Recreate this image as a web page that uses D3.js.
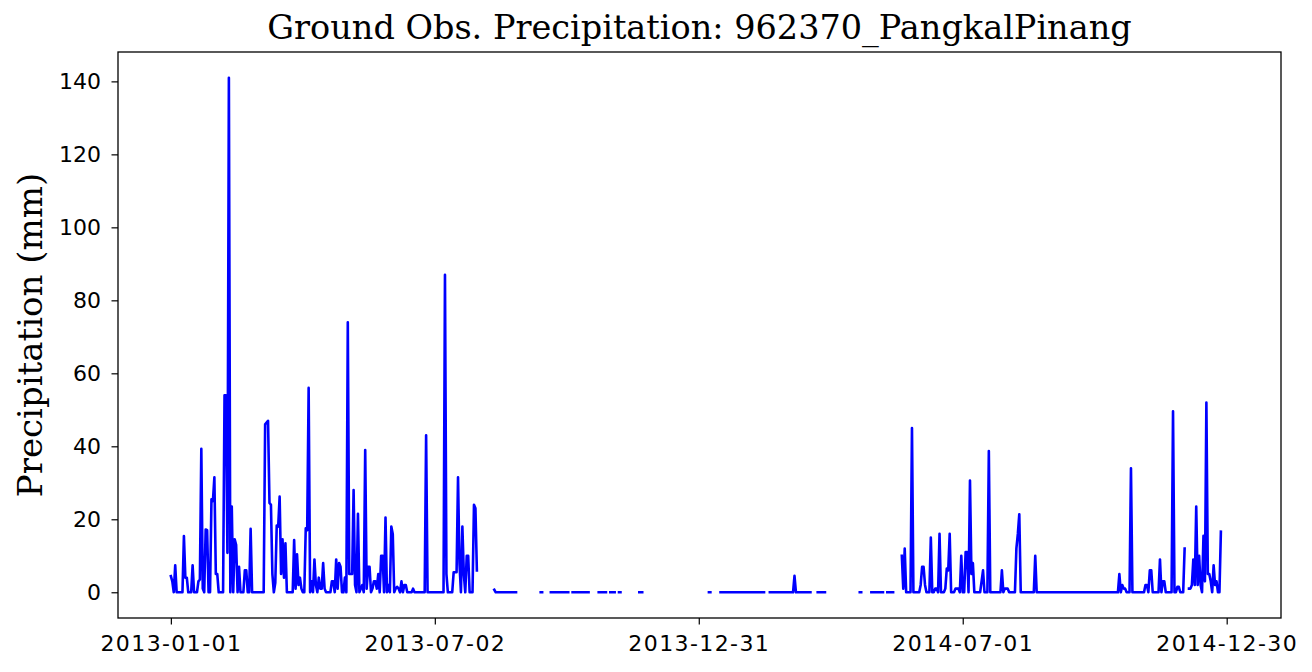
<!DOCTYPE html>
<html>
<head>
<meta charset="utf-8">
<script src="https://cdn.jsdelivr.net/npm/d3@7"></script>
<style>
  body { margin: 0; background: #fff; }
  svg text { font-family: "DejaVu Sans", sans-serif; fill: #000; }
</style>
</head>
<body>
<div id="chart"></div>
<script>
// series runs day by day from this date (day offset 0)
const startDate = "2013-01-01";
const dayCount = 730;

// x tick positions, as day offsets
const tickDays = [0, 182, 364, 546, 728];
const yTicks = [0, 20, 40, 60, 80, 100, 120, 140];

// stretches of days that have an observation [firstDay, lastDay]; the rest is missing
const observedRuns = [
    [0, 211], [223, 238], [255, 256], [262, 274], [277, 288], [295, 300],
    [303, 306], [309, 310], [323, 325], [371, 372], [379, 409], [413, 441],
    [446, 451], [475, 476], [483, 491], [494, 498], [504, 699], [702, 724]
];

// days with rain [day, mm]; every other observed day is 0 mm
const rainDays = [
    [0, 4.4], [1, 3], [3, 7.4], [9, 15.4], [10, 4], [11, 4], [15, 7.4], [19, 3],
    [20, 3.5], [21, 39.3], [22, 1], [24, 17.2], [25, 17], [28, 25.5], [29, 25],
    [30, 31.5], [31, 5], [32, 5], [37, 54], [38, 54], [39, 10.8], [40, 141],
    [42, 23.5], [44, 14.5], [45, 13], [47, 7], [51, 6], [52, 6], [55, 17.4],
    [65, 46], [66, 46.5], [67, 47], [68, 24.5], [69, 24], [70, 5], [72, 2.6],
    [73, 18.3], [74, 18], [75, 26.2], [76, 5], [77, 14.5], [78, 4], [79, 13.4],
    [85, 14.3], [86, 1], [87, 10.4], [88, 2], [89, 4], [90, 1], [93, 17.5], [94, 17],
    [95, 56], [97, 3], [99, 9], [100, 2], [102, 4], [103, 1], [104, 1], [105, 8],
    [106, 1], [111, 3], [112, 3], [114, 9], [115, 1], [116, 8], [117, 7], [120, 4],
    [122, 74], [123, 5], [124, 5], [125, 5], [126, 28], [127, 2], [129, 21.5],
    [131, 1], [132, 2], [134, 39], [135, 1], [136, 7], [137, 7], [139, 1], [140, 3],
    [141, 3], [142, 1], [143, 5], [145, 10], [146, 10], [148, 20.5], [150, 2],
    [152, 18], [153, 16], [155, 1], [156, 1.5], [157, 1], [159, 3], [161, 2],
    [162, 2], [167, 1], [176, 43], [189, 87], [190, 5], [195, 5.5], [196, 5.5],
    [197, 5.5], [198, 31.5], [199, 8], [201, 18], [202, 5], [204, 10], [205, 10],
    [209, 24], [210, 23], [211, 6],
    [223, 0.7], [430, 4.5],
    [504, 10], [505, 1], [506, 12], [511, 45], [517, 2], [518, 7], [519, 7], [520, 2],
    [524, 15], [527, 1], [528, 1], [530, 16], [534, 1], [535, 6.5], [536, 6],
    [537, 16], [541, 1], [542, 1], [543, 1], [545, 10], [548, 11], [549, 11],
    [551, 30.6], [552, 5], [553, 8], [559, 3], [560, 6], [564, 38.7], [573, 6],
    [575, 1], [576, 1], [577, 1], [583, 12], [584, 16], [585, 21.4], [596, 10],
    [654, 5], [656, 2], [657, 1], [658, 1], [662, 34], [672, 2], [673, 2], [675, 6],
    [676, 6], [682, 9], [684, 3], [685, 3], [691, 49.6], [694, 1.5], [695, 1.5],
    [699, 12], [702, 1], [703, 1], [704, 2], [705, 9], [706, 2], [707, 23.5],
    [708, 2], [709, 10], [710, 2], [712, 15.5], [713, 3], [714, 52], [715, 5],
    [716, 5], [717, 3], [719, 7.4], [720, 2], [721, 3], [724, 16.6]
];

const width = 1312, height = 672;
const margin = { top: 52, right: 31, bottom: 54, left: 118 };
const dayMs = 864e5;
const t0 = new Date(startDate + "T00:00:00Z");
const dayToDate = d => new Date(t0.getTime() + d * dayMs);

// daily series with null for missing days
const rainMap = new Map(rainDays);
const series = d3.range(dayCount).map(d => ({ date: dayToDate(d), value: null }));
observedRuns.forEach(([a, b]) => {
    for (let d = a; d <= b; d++) series[d].value = rainMap.has(d) ? rainMap.get(d) : 0;
});

const svg = d3.select("#chart").append("svg")
    .attr("width", width)
    .attr("height", height)
    .style("background", "#fff");

const pad = (dayCount - 1) * 0.05;
const x = d3.scaleUtc()
    .domain([dayToDate(-pad), dayToDate(dayCount - 1 + pad)])
    .range([margin.left, width - margin.right]);

const yMax = d3.max(rainDays, d => d[1]);
const y = d3.scaleLinear()
    .domain([-yMax * 0.05, yMax * 1.05])
    .range([height - margin.bottom, margin.top]);

// the rain line
const line = d3.line()
    .defined(d => d.value !== null)
    .x(d => x(d.date))
    .y(d => y(d.value));

svg.append("path")
    .datum(series)
    .attr("d", line)
    .attr("fill", "none")
    .attr("stroke", "#0000ff")
    .attr("stroke-width", 2.6)
    .attr("stroke-linejoin", "round")
    .attr("stroke-linecap", "square");

// axes
const fmt = d3.utcFormat("%Y-%m-%d");
const xAxis = svg.append("g")
    .attr("transform", `translate(0,${height - margin.bottom})`)
    .call(d3.axisBottom(x).tickValues(tickDays.map(dayToDate)).tickFormat(fmt)
        .tickSize(6.5).tickPadding(11).tickSizeOuter(0));

const yAxis = svg.append("g")
    .attr("transform", `translate(${margin.left},0)`)
    .call(d3.axisLeft(y).tickValues(yTicks).tickSize(6.5).tickPadding(10.5).tickSizeOuter(0));

[xAxis, yAxis].forEach(g => {
    g.select(".domain").remove();
    g.selectAll(".tick line").attr("stroke", "#000").attr("stroke-width", 1.2);
    g.selectAll(".tick text").attr("font-size", 22).attr("font-family", "DejaVu Sans").attr("fill", "#000");
});
xAxis.selectAll(".tick text").style("letter-spacing", "1.4px");

// frame
svg.append("rect")
    .attr("x", margin.left)
    .attr("y", margin.top)
    .attr("width", width - margin.left - margin.right)
    .attr("height", height - margin.top - margin.bottom)
    .attr("fill", "none")
    .attr("stroke", "#000")
    .attr("stroke-width", 1.3);

// title and label
svg.append("text")
    .attr("x", (margin.left + width - margin.right) / 2)
    .attr("y", 39)
    .attr("text-anchor", "middle")
    .style("font-family", "'DejaVu Serif', serif")
    .style("font-size", "33.5px")
    .text("Ground Obs. Precipitation: 962370_PangkalPinang");

svg.append("text")
    .attr("transform", `translate(42,${(margin.top + height - margin.bottom) / 2}) rotate(-90)`)
    .attr("text-anchor", "middle")
    .style("font-family", "'DejaVu Serif', serif")
    .style("font-size", "34px")
    .text("Precipitation (mm)");
</script>
</body>
</html>
